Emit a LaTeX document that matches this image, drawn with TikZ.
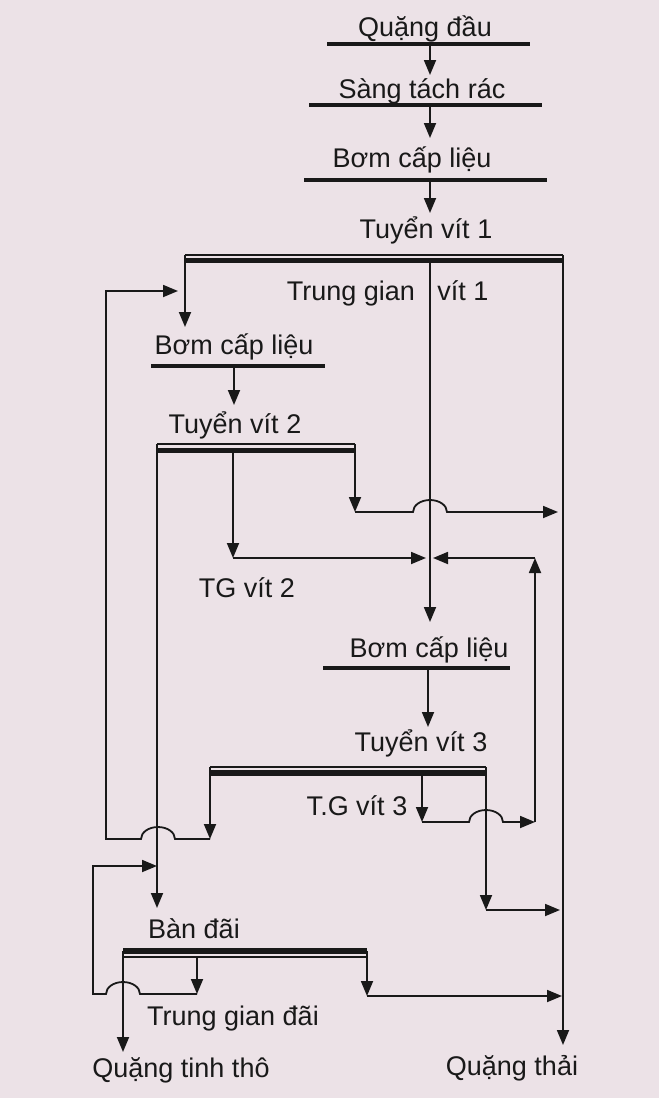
\documentclass[tikz,border=0pt]{standalone}
\usepackage{fontspec}
\setmainfont{Liberation Sans}
\usepackage{xcolor}
\usetikzlibrary{arrows.meta}
\definecolor{paper}{RGB}{236,226,231}
\definecolor{ink}{RGB}{25,25,25}

\begin{document}
\begin{tikzpicture}[
    x=0.5pt, y=-0.5pt,
    every node/.style={font=\fontsize{13.5}{16}\selectfont, inner sep=0pt, text=ink},
    lbl/.style={anchor=base},
    feedbar/.style={line width=2.1pt, draw=ink},
    heavybar/.style={line width=2.6pt, draw=ink},
    thinbar/.style={line width=0.8pt, draw=ink},
    pipe/.style={line width=0.9pt, draw=ink},
    arrow/.style={-{Triangle[length=7.5pt,width=6pt]}, line width=0.9pt, draw=ink},
    hop/.style={x radius=8.5pt, y radius=6pt}
]

% paper
\fill[paper] (0,0) rectangle (659,1098);
\useasboundingbox (0,0) rectangle (659,1098);

% =========================================================
% LABELS
% =========================================================

\node[lbl] (raw) at (425,36) {Quặng đầu};
\node[lbl] (screen) at (422,98) {Sàng tách rác};
\node[lbl] (pumpA) at (412,167) {Bơm cấp liệu};
\node[lbl] (spiralA) at (426,238) {Tuyển vít 1};
\node[lbl] (midA) at (351,300) {Trung gian};
\node[lbl] (midAb) at (463,300) {vít 1};
\node[lbl] (pumpB) at (234,354) {Bơm cấp liệu};
\node[lbl] (spiralB) at (235,433) {Tuyển vít 2};
\node[lbl] (midB) at (247,597) {TG vít 2};
\node[lbl] (pumpC) at (429,657) {Bơm cấp liệu};
\node[lbl] (spiralC) at (421,751) {Tuyển vít 3};
\node[lbl] (midC) at (357,815) {T.G vít 3};
\node[lbl] (table) at (194,938) {Bàn đãi};
\node[lbl] (midT) at (233,1025) {Trung gian đãi};
\node[lbl] (conc) at (181,1077) {Quặng tinh thô};
\node[lbl] (tail) at (512,1075) {Quặng thải};

% =========================================================
% FEED LINE
% =========================================================

\coordinate (rawL) at (327,44);    \coordinate (rawR) at (530,44);
\coordinate (scrL) at (309,105);   \coordinate (scrR) at (542,105);
\coordinate (pumpAL) at (304,180); \coordinate (pumpAR) at (547,180);

\coordinate (rawOut) at (430,44);    \coordinate (scrIn) at (430,75);
\coordinate (scrOut) at (430,105);   \coordinate (pumpAIn) at (430,138);
\coordinate (pumpAOut) at (430,180); \coordinate (spiralAIn) at (430,213);

\draw[feedbar] (rawL) -- (rawR);
\draw[feedbar] (scrL) -- (scrR);
\draw[feedbar] (pumpAL) -- (pumpAR);

\draw[arrow] (rawOut) -- (scrIn);
\draw[arrow] (scrOut) -- (pumpAIn);
\draw[arrow] (pumpAOut) -- (spiralAIn);

% =========================================================
% SPIRAL 1
% =========================================================

\coordinate (sAL) at (185,255); \coordinate (sAR) at (563,255);
\coordinate (sAmid) at (430,260);
\coordinate (pumpBIn) at (185,327);
\coordinate (pumpCIn) at (430,622);
\coordinate (tailIn) at (563,1045);

\draw[arrow] (sAL) -- (pumpBIn);
\draw[arrow] (sAmid) -- (pumpCIn);
\draw[arrow] (sAR) -- (tailIn);

\draw[thinbar] (sAL) -- (sAR);
\draw[heavybar] ([yshift=-2.8pt]sAL) -- ([yshift=-2.8pt]sAR);

% =========================================================
% SPIRAL 2
% =========================================================

\coordinate (pumpBL) at (151,366);   \coordinate (pumpBR) at (325,366);
\coordinate (pumpBOut) at (234,366); \coordinate (spiralBIn) at (234,405);

\draw[feedbar] (pumpBL) -- (pumpBR);
\draw[arrow] (pumpBOut) -- (spiralBIn);

\coordinate (sBL) at (157,444); \coordinate (sBR) at (355,444);
\coordinate (sBmid) at (233,451);
\coordinate (tableIn) at (157,908);
\coordinate (midBcorner) at (233,558); \coordinate (midBend) at (426,558);
\coordinate (tailBcorner) at (355,512); \coordinate (hopB) at (413,512);
\coordinate (tailBend) at (558,512);

\draw[arrow] (sBL) -- (tableIn);
\draw[arrow] (sBmid) -- (midBcorner);
\draw[arrow] (midBcorner) -- (midBend);
\draw[arrow] (sBR) -- (tailBcorner);
\draw[arrow] (tailBcorner) -- (hopB)
    arc[hop, start angle=180, end angle=0] -- (tailBend);

\draw[thinbar] (sBL) -- (sBR);
\draw[heavybar] ([yshift=-3.4pt]sBL) -- ([yshift=-3.4pt]sBR);

% =========================================================
% SPIRAL 3
% =========================================================

\coordinate (pumpCL) at (323,668);   \coordinate (pumpCR) at (510,668);
\coordinate (pumpCOut) at (428,668); \coordinate (spiralCIn) at (428,727);

\draw[feedbar] (pumpCL) -- (pumpCR);
\draw[arrow] (pumpCOut) -- (spiralCIn);

\coordinate (sCL) at (210,767); \coordinate (sCR) at (486,767);
\coordinate (sCmid) at (422,775);

% middlings of spiral 3 back to pump 3
\coordinate (midCcorner) at (422,822); \coordinate (hopC) at (469,822);
\coordinate (midCend) at (535,822);    \coordinate (midCtop) at (535,558);
\coordinate (midCin) at (433,558);

\draw[arrow] (sCmid) -- (midCcorner);
\draw[arrow] (midCcorner) -- (hopC)
    arc[hop, start angle=180, end angle=0] -- (midCend);
\draw[arrow] (midCend) -- (midCtop);
\draw[arrow] (midCtop) -- (midCin);

% concentrate of spiral 3 back to pump 2
\coordinate (sCcorner) at (210,839); \coordinate (hopD) at (175,839);
\coordinate (retL) at (106,839);     \coordinate (retTop) at (106,291);
\coordinate (pumpBside) at (178,291);

\draw[arrow] (sCL) -- (sCcorner);
\draw[arrow] (sCcorner) -- (hopD)
    arc[hop, start angle=0, end angle=180] -- (retL) -- (retTop) -- (pumpBside);

% tailings of spiral 3
\coordinate (tailCcorner) at (486,910); \coordinate (tailCend) at (560,910);

\draw[arrow] (sCR) -- (tailCcorner);
\draw[arrow] (tailCcorner) -- (tailCend);

\draw[thinbar] (sCL) -- (sCR);
\draw[heavybar] ([yshift=-3pt]sCL) -- ([yshift=-3pt]sCR);

% =========================================================
% SHAKING TABLE
% =========================================================

\coordinate (tabL) at (123,951); \coordinate (tabR) at (367,951);
\coordinate (tabMid) at (197,957);
\coordinate (concEnd) at (123,1052);

\coordinate (tabMidCorner) at (197,994); \coordinate (hopE) at (140,994);
\coordinate (retTL) at (93,994);         \coordinate (retTT) at (93,866);
\coordinate (tableSide) at (157,866);

\coordinate (tabTailCorner) at (367,996); \coordinate (tabTailEnd) at (562,996);

\draw[arrow] (tabL) -- (concEnd);
\draw[arrow] (tabMid) -- (tabMidCorner);
\draw[arrow] (tabMidCorner) -- (hopE)
    arc[hop, start angle=0, end angle=180] -- (retTL) -- (retTT) -- (tableSide);
\draw[arrow] (tabR) -- (tabTailCorner);
\draw[arrow] (tabTailCorner) -- (tabTailEnd);

\draw[heavybar] (tabL) -- (tabR);
\draw[thinbar] ([yshift=-3pt]tabL) -- ([yshift=-3pt]tabR);

\end{tikzpicture}
\end{document}
